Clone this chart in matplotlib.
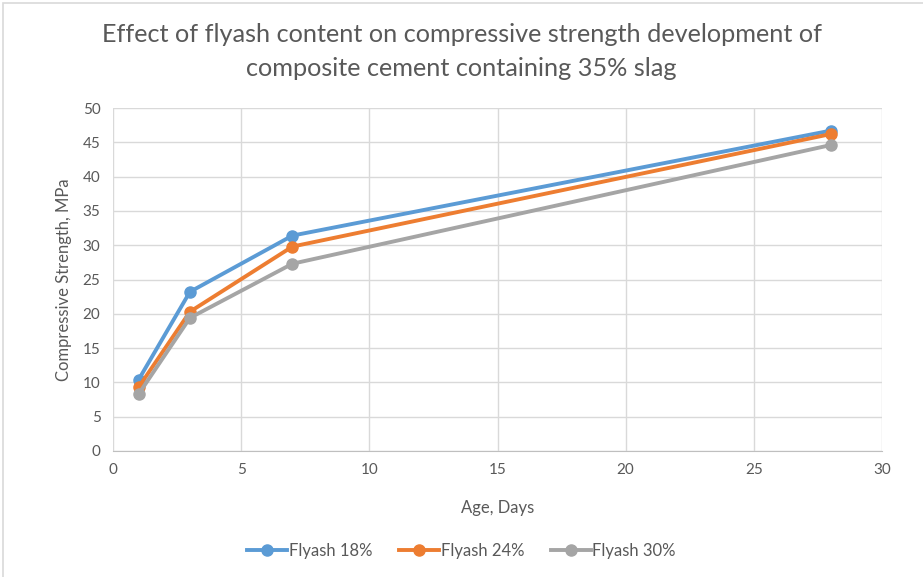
import matplotlib
matplotlib.use('Agg')
from matplotlib import pyplot as plt
from matplotlib.patches import Rectangle

plt.rcParams['font.family'] = ['Lato', 'DejaVu Sans']

days = [1, 3, 7, 28]
flyash_18 = [10.4, 23.2, 31.4, 46.7]
flyash_24 = [9.3, 20.3, 29.8, 46.2]
flyash_30 = [8.3, 19.4, 27.3, 44.6]
labels = ['Flyash 18%', 'Flyash 24%', 'Flyash 30%']
colors = ['#5B9BD5', '#ED7D31', '#A5A5A5']

fig = plt.figure(figsize=(9.23, 5.77), dpi=100)
ax = fig.add_axes([113/923, 1 - 451/577, (882-113)/923, (451-108)/577])

for ys, lab, c in zip([flyash_18, flyash_24, flyash_30], labels, colors):
    ax.plot(days, ys, color=c, lw=2.8, marker='o', ms=8, label=lab)

ax.set_xlim(0, 30)
ax.set_ylim(0, 50)
ax.set_xticks(range(0, 31, 5))
ax.set_yticks(range(0, 51, 5))
ax.grid(True, color='#D9D9D9', lw=1)
ax.set_axisbelow(True)
for s in ['top', 'right', 'left']:
    ax.spines[s].set_visible(False)
ax.spines['bottom'].set_color('#BFBFBF')
ax.tick_params(length=0, colors='#595959', labelsize=11, pad=9)

ax.set_xlabel('Age, Days', color='#595959', fontsize=12, labelpad=16)
ax.set_ylabel('Compressive Strength, MPa', color='#595959', fontsize=12, labelpad=8)
fig.suptitle('Effect of flyash content on compressive strength development of\ncomposite cement containing 35% slag',
             color='#595959', fontsize=18.2, y=0.96, linespacing=1.55)

fig.legend(loc='center', bbox_to_anchor=(0.5, 1 - 551/577), ncol=3, frameon=False,
           fontsize=12, labelcolor='#595959', handlelength=2.4, handletextpad=0.1, columnspacing=1.6)

fig.patches.append(Rectangle((3/923, -0.01), 1.1, 1 - 3/577 + 0.01, transform=fig.transFigure,
                             fill=False, edgecolor='#D9D9D9', lw=1.2))

fig.savefig('out.png', dpi=100)
